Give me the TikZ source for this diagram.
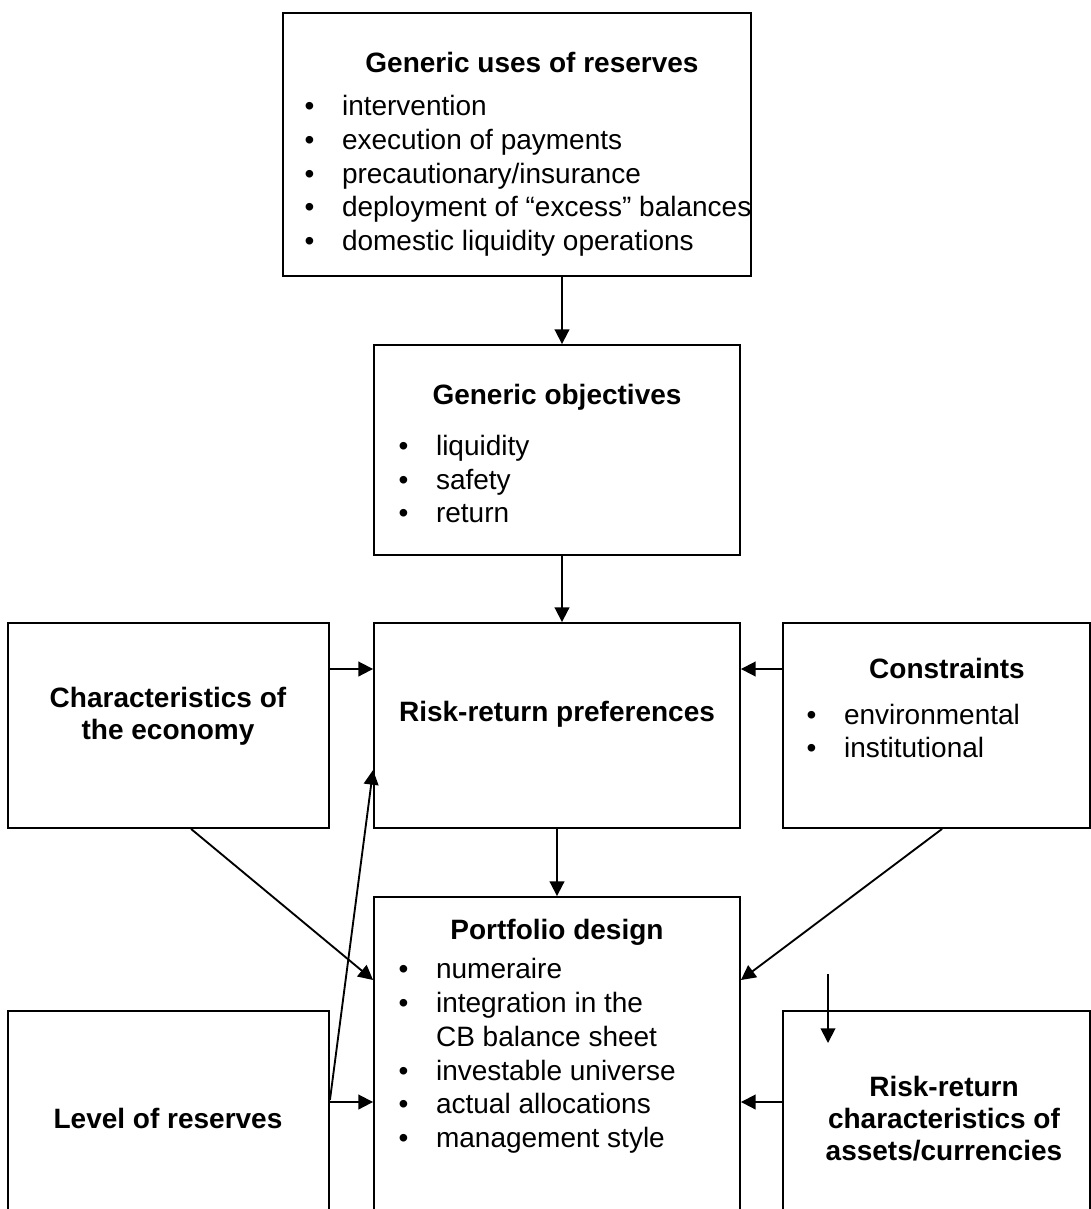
\documentclass[tikz,border=0pt]{standalone}
\usepackage{fontspec}
\setmainfont{Liberation Sans}
\usepackage{tikz}
\usetikzlibrary{arrows.meta,fit}
\tikzset{>={Triangle[length=11pt,width=11pt]}}
\tikzset{
  box/.style={draw,line width=1.4pt,inner sep=0pt},
  head/.style={font=\fontsize{21}{24}\selectfont\bfseries,align=center},
  items/.style={font=\fontsize{21}{25.3}\selectfont,align=left,anchor=west},
  link/.style={->,line width=1.4pt},
}
\newcommand{\bul}{\makebox[28pt][l]{\textbullet}}
\newcommand{\hang}{\hspace*{28pt}}

\begin{document}
\begin{tikzpicture}[x=0.75pt,y=-0.75pt]
\useasboundingbox (0,0) rectangle (1091,1209);
\clip (0,0) rectangle (1091,1209);

% ===== boxes =====
\node[box,fit={(283,13) (751,276)}] (uses) {};
\node[box,fit={(374,345) (740,555)}] (obj) {};
\node[box,fit={(8,623) (329,828)}] (econ) {};
\node[box,fit={(374,623) (740,828)}] (pref) {};
\node[box,fit={(783,623) (1090,828)}] (cons) {};
\node[box,fit={(374,897) (740,1260)}] (design) {};
\node[box,fit={(8,1011) (329,1260)}] (level) {};
\node[box,fit={(783,1011) (1090,1260)}] (assets) {};

% ===== texts =====
\node[head] (usesH) at (532,62) {Generic uses of reserves};
\node[items] (usesL) at (300,176) {\bul intervention\\ \bul execution of payments\\ \bul precautionary/insurance\\ \bul deployment of “excess” balances\\ \bul domestic liquidity operations};
\node[head] (objH) at (557,397) {Generic objectives};
\node[items] (objL) at (394,479) {\bul liquidity\\ \bul safety\\ \bul return};
\node[head] (econH) at (168,716) {Characteristics of\\the economy};
\node[head] (prefH) at (557,714) {Risk-return preferences};
\node[head] (consH) at (947,668) {Constraints};
\node[items] (consL) at (802,731) {\bul environmental\\ \bul institutional};
\node[head] (designH) at (557,932) {Portfolio design};
\node[items] (designL) at (394,1056) {\bul numeraire\\ \bul integration in the\\ \hang CB balance sheet\\ \bul investable universe\\ \bul actual allocations\\ \bul management style};
\node[head] (levelH) at (168,1118) {Level of reserves};
\node[head] (assetsH) at (944,1119) {Risk-return\\characteristics of\\assets/currencies};

% ===== arrows =====
\coordinate (colA) at (562,0);
\coordinate (rowA) at (0,669);
\coordinate (rowB) at (0,1102);
\coordinate (rowC) at (0,980);
\coordinate (rowD) at (0,1100);
\coordinate (rowE) at (0,770);
\coordinate (stubTop) at (828,974);
\coordinate (stubEnd) at (828,1043);
\draw[link] (uses.south -| colA) -- (obj.north -| colA);
\draw[link] (obj.south -| colA) -- (pref.north -| colA);
\draw[link] (pref.south) -- (design.north);
\draw[link] (econ.east |- rowA) -- (pref.west |- rowA);
\draw[link] (cons.west |- rowA) -- (pref.east |- rowA);
\draw[link] ([xshift=138pt]econ.south west) -- (design.west |- rowC);
\draw[link] ([xshift=120pt]cons.south west) -- (design.east |- rowC);
\draw[link] (level.east |- rowD) -- (pref.west |- rowE);
\draw[link] (level.east |- rowB) -- (design.west |- rowB);
\draw[link] (assets.west |- rowB) -- (design.east |- rowB);
\draw[link] (stubTop) -- (stubEnd);

\end{tikzpicture}
\end{document}
